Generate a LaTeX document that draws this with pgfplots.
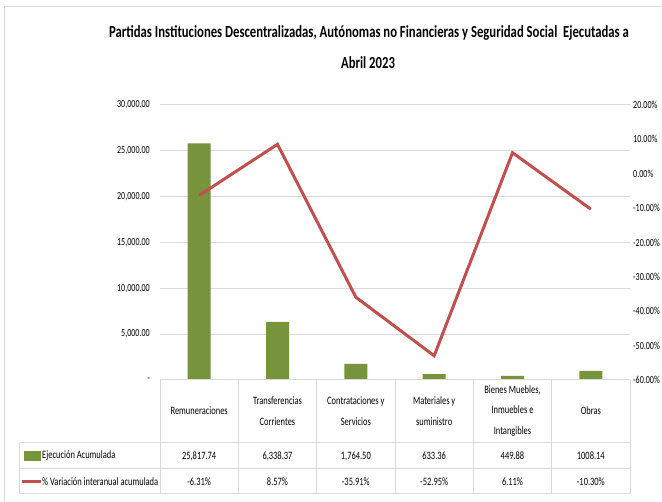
\documentclass[border=0pt]{standalone}
\usepackage{pgfplots}
\pgfplotsset{compat=1.18}
\usepackage{fontspec}
\setmainfont{Carlito}[FakeStretch=0.75]
\definecolor{barg}{HTML}{77933C}
\definecolor{liner}{HTML}{C0504D}
\definecolor{gridc}{HTML}{D9D9D9}
\begin{document}
\begin{tikzpicture}[x=1bp,y=1bp]
\useasboundingbox (-160,-122) rectangle (502,380);
\begin{axis}[at={(0,0)}, anchor=south west, scale only axis,
  width=470bp, height=275bp, xmin=-0.5, xmax=5.5, ymin=0, ymax=30000,
  axis line style={draw=none}, major tick length=0pt, xtick=\empty,
  scaled y ticks=false,
  ytick={0,5000,10000,15000,20000,25000,30000},
  yticklabels={{-\hspace{3bp}},{5,000.00},{10,000.00},{15,000.00},{20,000.00},{25,000.00},{30,000.00}},
  yticklabel style={font=\fontsize{10.8}{11}\selectfont, anchor=east, inner sep=0pt, xshift=-10bp},
  ymajorgrids, grid style={gridc, line width=1bp}, clip=false]
\addplot[ybar, bar width=23bp, fill=barg, draw=none] coordinates {(0,25817.74)(1,6338.37)(2,1764.50)(3,633.36)(4,449.88)(5,1008.14)};
\end{axis}
\begin{axis}[at={(0,0)}, anchor=south west, scale only axis,
  width=470bp, height=275bp, xmin=-0.5, xmax=5.5, ymin=-60, ymax=20,
  axis line style={draw=none}, major tick length=0pt, xtick=\empty,
  axis y line*=right,
  ytick={-60,-50,-40,-30,-20,-10,0,10,20},
  yticklabels={-60.00\%,-50.00\%,-40.00\%,-30.00\%,-20.00\%,-10.00\%,0.00\%,10.00\%,20.00\%},
  yticklabel style={font=\fontsize{10.8}{11}\selectfont, anchor=west, inner sep=0pt, xshift=3bp}, clip=false]
\addplot[liner, line width=3bp] coordinates {(0,-6.31)(1,8.57)(2,-35.91)(3,-52.95)(4,6.11)(5,-10.30)};
\end{axis}
% border
\draw[gridc, line width=1bp] (-155,-122) -- (-155,373) -- (502,373);
% title
\node[font=\bfseries\fontsize{17}{18}\selectfont] at (209,347) {Partidas Instituciones Descentralizadas, Autónomas no Financieras y Seguridad Social\ \ Ejecutadas a};
\node[font=\bfseries\fontsize{17}{18}\selectfont] at (208,317) {Abril 2023};
% table
\begin{scope}[gridc, line width=1bp]
\draw (0,0) -- (470,0);
\foreach \x in {0,78.33,156.67,235,313.33,391.67,470} \draw (\x,0) -- (\x,-114);
\draw (-140,-63) -- (-140,-114);
\draw (-140,-63) -- (470,-63);
\draw (-140,-89) -- (470,-89);
\draw (-140,-114) -- (470,-114);
\end{scope}
\begin{scope}[every node/.style={font=\fontsize{11.3}{20.5}\selectfont, align=center}]
\node at (39.17,-31) {Remuneraciones};
\node at (117.5,-31) {Transferencias\\Corrientes};
\node at (195.83,-31) {Contrataciones y\\Servicios};
\node at (274.17,-31) {Materiales y\\suministro};
\node at (352.5,-31) {Bienes Muebles,\\Inmuebles e\\Intangibles};
\node at (430.83,-31) {Obras};
\node at (39.17,-76) {25,817.74};
\node at (117.5,-76) {6,338.37};
\node at (195.83,-76) {1,764.50};
\node at (274.17,-76) {633.36};
\node at (352.5,-76) {449.88};
\node at (430.83,-76) {1008.14};
\node at (39.17,-102) {-6.31\%};
\node at (117.5,-102) {8.57\%};
\node at (195.83,-102) {-35.91\%};
\node at (274.17,-102) {-52.95\%};
\node at (352.5,-102) {6.11\%};
\node at (430.83,-102) {-10.30\%};
\node[anchor=west, inner sep=0pt] at (-118,-76) {Ejecución Acumulada};
\node[anchor=west, inner sep=0pt] at (-118,-102) {\% Variación interanual acumulada};
\end{scope}
\fill[barg] (-136,-71) rectangle (-119,-81);
\draw[liner, line width=3bp] (-138,-102) -- (-119,-102);
\end{tikzpicture}
\end{document}
